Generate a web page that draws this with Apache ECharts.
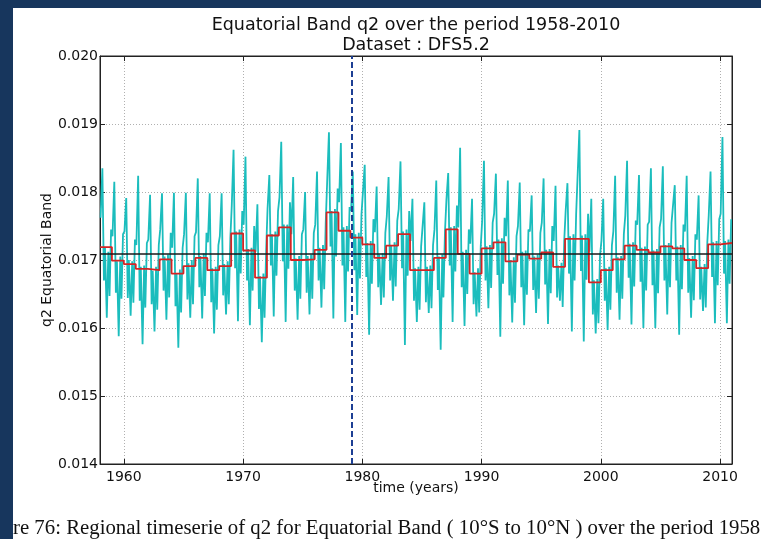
<!DOCTYPE html>
<html>
<head>
<meta charset="utf-8">
<script src="https://cdn.jsdelivr.net/npm/echarts@6/dist/echarts.min.js"></script>
<style>
  html, body { margin: 0; padding: 0; background: #ffffff; }
  #chart { width: 761px; height: 539px; }
</style>
</head>
<body>
<div id="chart"></div>
<script>
// Years covered by the series (one entry per calendar year)
const years = [1958,1959,1960,1961,1962,1963,1964,1965,1966,1967,1968,1969,1970,1971,1972,1973,1974,1975,1976,1977,
  1978,1979,1980,1981,1982,1983,1984,1985,1986,1987,1988,1989,1990,1991,1992,1993,1994,1995,1996,1997,
  1998,1999,2000,2001,2002,2003,2004,2005,2006,2007,2008,2009,2010];

// Annual means of q2 (red step curve)
const annualMean = [0.01719,0.01699,0.01694,0.01687,0.01685,0.01701,0.01680,0.01691,0.01703,0.01685,
  0.01691,0.01739,0.01714,0.01674,0.01736,0.01748,0.01700,0.01701,0.01715,0.01770,
  0.01743,0.01733,0.01723,0.01703,0.01721,0.01738,0.01685,0.01685,0.01703,0.01745,
  0.01709,0.01680,0.01717,0.01726,0.01698,0.01708,0.01702,0.01711,0.01690,0.01731,
  0.01731,0.01667,0.01685,0.01701,0.01721,0.01715,0.01711,0.01720,0.01717,0.01700,
  0.01688,0.01723,0.01725];

// Raw q2 signal (cyan curve), sampled at a few points of each year
// early-year level, before the seasonal maximum
const qPre = [0.01762,0.01735,0.01742,0.01722,0.01730,0.01745,0.01718,0.01738,0.01741,0.01726,
  0.01735,0.01780,0.01752,0.01712,0.01775,0.01792,0.01738,0.01745,0.01752,0.01815,
  0.01785,0.01772,0.01766,0.01741,0.01764,0.01775,0.01728,0.01722,0.01745,0.01788,
  0.01748,0.01724,0.01758,0.01768,0.01735,0.01750,0.01742,0.01755,0.01728,0.01772,
  0.01770,0.01712,0.01728,0.01742,0.01765,0.01752,0.01756,0.01760,0.01755,0.01742,
  0.01730,0.01766,0.01768];
// seasonal maximum
const qPeak = [0.01835,0.01815,0.01791,0.01824,0.01796,0.01798,0.01799,0.01799,0.01820,0.01798,
  0.01798,0.01862,0.01852,0.01782,0.01825,0.01874,0.01822,0.01800,0.01830,0.01888,
  0.01872,0.01830,0.01840,0.01808,0.01822,0.01845,0.01790,0.01785,0.01817,0.01828,
  0.01865,0.01790,0.01846,0.01827,0.01817,0.01814,0.01795,0.01820,0.01809,0.01813,
  0.01891,0.01790,0.01790,0.01824,0.01846,0.01825,0.01835,0.01838,0.01810,0.01824,
  0.01795,0.01830,0.01881];
// drop after the maximum
const qFall = [0.01670,0.01652,0.01644,0.01640,0.01635,0.01655,0.01632,0.01642,0.01660,0.01638,
  0.01648,0.01688,0.01670,0.01628,0.01692,0.01698,0.01655,0.01652,0.01670,0.01720,
  0.01692,0.01685,0.01675,0.01660,0.01670,0.01688,0.01640,0.01638,0.01656,0.01692,
  0.01660,0.01635,0.01670,0.01678,0.01648,0.01660,0.01656,0.01664,0.01645,0.01680,
  0.01684,0.01620,0.01640,0.01652,0.01674,0.01668,0.01663,0.01670,0.01670,0.01652,
  0.01642,0.01675,0.01680];
// short rebound before the minimum
const qBump = [0.01718,0.01698,0.01700,0.01690,0.01684,0.01705,0.01680,0.01695,0.01706,0.01688,
  0.01694,0.01742,0.01716,0.01676,0.01738,0.01752,0.01702,0.01706,0.01718,0.01772,
  0.01748,0.01738,0.01725,0.01708,0.01722,0.01742,0.01688,0.01690,0.01705,0.01748,
  0.01712,0.01682,0.01720,0.01730,0.01700,0.01712,0.01705,0.01715,0.01692,0.01735,
  0.01736,0.01670,0.01688,0.01704,0.01724,0.01718,0.01714,0.01722,0.01720,0.01703,
  0.01690,0.01726,0.01728];
// seasonal minimum
const qTrough = [0.01615,0.01588,0.01618,0.01576,0.01595,0.01612,0.01571,0.01615,0.01614,0.01592,
  0.01620,0.01610,0.01604,0.01579,0.01617,0.01609,0.01612,0.01620,0.01630,0.01614,
  0.01609,0.01619,0.01590,0.01634,0.01640,0.01575,0.01609,0.01622,0.01568,0.01609,
  0.01603,0.01617,0.01629,0.01587,0.01608,0.01604,0.01622,0.01606,0.01640,0.01595,
  0.01580,0.01592,0.01597,0.01612,0.01605,0.01600,0.01600,0.01620,0.01590,0.01615,
  0.01625,0.01607,0.01607];
// recovery after the minimum
const qRecover = [0.01712,0.01705,0.01698,0.01692,0.01690,0.01708,0.01686,0.01700,0.01710,0.01690,
  0.01698,0.01745,0.01718,0.01680,0.01742,0.01752,0.01706,0.01708,0.01722,0.01775,
  0.01750,0.01740,0.01728,0.01710,0.01726,0.01745,0.01690,0.01692,0.01708,0.01750,
  0.01715,0.01688,0.01722,0.01732,0.01704,0.01714,0.01708,0.01716,0.01696,0.01738,
  0.01738,0.01672,0.01690,0.01706,0.01726,0.01720,0.01716,0.01725,0.01722,0.01706,
  0.01694,0.01728,0.01730];
// late-year dip
const qDip = [0.01647,0.01643,0.01637,0.01630,0.01627,0.01645,0.01623,0.01635,0.01647,0.01627,
  0.01635,0.01680,0.01655,0.01615,0.01677,0.01687,0.01643,0.01643,0.01657,0.01705,
  0.01683,0.01673,0.01665,0.01645,0.01661,0.01677,0.01627,0.01629,0.01645,0.01683,
  0.01650,0.01623,0.01659,0.01665,0.01637,0.01649,0.01643,0.01651,0.01631,0.01670,
  0.01671,0.01607,0.01627,0.01643,0.01661,0.01655,0.01651,0.01660,0.01657,0.01641,
  0.01630,0.01663,0.01665];
// end-of-year level
const qLate = [0.01745,0.01738,0.01730,0.01725,0.01722,0.01740,0.01718,0.01735,0.01740,0.01722,
  0.01732,0.01772,0.01750,0.01712,0.01772,0.01785,0.01738,0.01740,0.01755,0.01805,
  0.01778,0.01768,0.01760,0.01740,0.01758,0.01772,0.01720,0.01722,0.01742,0.01780,
  0.01745,0.01720,0.01755,0.01762,0.01735,0.01745,0.01740,0.01750,0.01728,0.01768,
  0.01768,0.01706,0.01722,0.01738,0.01758,0.01752,0.01748,0.01755,0.01752,0.01738,
  0.01726,0.01760,0.01760];

const overallMean = 0.01709;   // long-term mean (black line)
const dfsBreak = 1979.1;       // dashed marker
const xTicks = [1960, 1970, 1980, 1990, 2000, 2010];

// position of each sample inside its year (fraction of a year), in time order
const samples = [
  [0.05, qPre], [0.20, qPeak], [0.33, qFall], [0.42, qBump],
  [0.57, qTrough], [0.70, qRecover], [0.80, qDip], [0.93, qLate]
];

const rawData = [];
years.forEach((y, i) => {
  samples.forEach(([phase, arr]) => rawData.push([y + phase, arr[i]]));
});

const stepData = years.map((y, i) => [y, annualMean[i]]);
stepData.push([years[years.length - 1] + 1, annualMean[annualMean.length - 1]]);

const FONT = '"DejaVu Sans", sans-serif';
const GRID = { left: 100, right: 29, top: 56, bottom: 75 };
const plotCx = GRID.left + (761 - GRID.left - GRID.right) / 2;
const plotCy = GRID.top + (539 - GRID.top - GRID.bottom) / 2;

const chart = echarts.init(document.getElementById('chart'), null, { renderer: 'canvas' });

const tickStyle = { show: true, inside: true, length: 5, lineStyle: { color: '#222', width: 1 } };
const gridLine = { show: true, lineStyle: { color: '#b0b0b0', type: [1, 2], width: 1 } };

chart.setOption({
  backgroundColor: '#ffffff',
  animation: false,
  grid: Object.assign({ show: true, borderColor: '#222', borderWidth: 1, containLabel: false }, GRID),
  xAxis: [
    {
      type: 'value', min: 1958, max: 2011, position: 'bottom',
      axisLine: { show: true, onZero: false, lineStyle: { color: '#222', width: 1 } },
      axisTick: Object.assign({ customValues: xTicks }, tickStyle),
      axisLabel: { customValues: xTicks, color: '#111', fontFamily: FONT, fontSize: 14, margin: 6,
        formatter: v => String(v) },
      splitLine: gridLine
    },
    {
      type: 'value', min: 1958, max: 2011, position: 'top',
      axisLine: { show: true, onZero: false, lineStyle: { color: '#222', width: 1 } },
      axisTick: Object.assign({ customValues: xTicks }, tickStyle),
      axisLabel: { show: false },
      splitLine: { show: false }
    }
  ],
  yAxis: [
    {
      type: 'value', min: 0.014, max: 0.020, interval: 0.001, position: 'left',
      axisLine: { show: true, onZero: false, lineStyle: { color: '#222', width: 1 } },
      axisTick: tickStyle,
      axisLabel: { color: '#111', fontFamily: FONT, fontSize: 14, margin: 2,
        formatter: v => v.toFixed(3) },
      splitLine: gridLine
    },
    {
      type: 'value', min: 0.014, max: 0.020, interval: 0.001, position: 'right',
      axisLine: { show: true, onZero: false, lineStyle: { color: '#222', width: 1 } },
      axisTick: tickStyle,
      axisLabel: { show: false },
      splitLine: { show: false }
    }
  ],
  series: [
    {
      name: 'q2', type: 'line', data: rawData, showSymbol: false, symbol: 'none',
      lineStyle: { color: '#1bbdbd', width: 1.8 }, z: 2,
      markLine: {
        silent: true, symbol: 'none', label: { show: false },
        lineStyle: { color: '#1d3f94', type: [6, 3], width: 2 },
        data: [{ xAxis: dfsBreak }]
      }
    },
    {
      name: 'annual mean', type: 'line', step: 'end', data: stepData, showSymbol: false, symbol: 'none',
      lineStyle: { color: '#d42424', width: 1.8 }, z: 3
    },
    {
      name: 'mean', type: 'line', data: [[1958, overallMean], [2011, overallMean]],
      showSymbol: false, symbol: 'none', lineStyle: { color: '#1a1a1a', width: 1.5 }, z: 4
    }
  ],
  graphic: [
    { type: 'text', x: plotCx, y: 25, style: { text: 'Equatorial Band q2 over the period 1958-2010',
        font: '17.5px ' + FONT, fill: '#111', align: 'center', verticalAlign: 'middle' } },
    { type: 'text', x: plotCx, y: 45, style: { text: 'Dataset : DFS5.2',
        font: '17.5px ' + FONT, fill: '#111', align: 'center', verticalAlign: 'middle' } },
    { type: 'text', x: 47, y: plotCy, rotation: Math.PI / 2, style: { text: 'q2 Equatorial Band',
        font: '14px ' + FONT, fill: '#111', align: 'center', verticalAlign: 'middle' } },
    { type: 'text', x: plotCx, y: 488, style: { text: 'time (years)',
        font: '14px ' + FONT, fill: '#111', align: 'center', verticalAlign: 'middle' } },
    { type: 'text', x: 13, y: 529, style: { text: 're 76: Regional timeserie of q2 for Equatorial Band ( 10°S to 10°N ) over the period 1958',
        font: '20.8px "Liberation Serif", serif', fill: '#111', align: 'left', verticalAlign: 'middle' } },
    { type: 'rect', shape: { x: 0, y: 0, width: 761, height: 8 }, style: { fill: '#17365d' }, z: 100 },
    { type: 'rect', shape: { x: 0, y: 0, width: 13, height: 539 }, style: { fill: '#17365d' }, z: 100 }
  ]
});
</script>
</body>
</html>
